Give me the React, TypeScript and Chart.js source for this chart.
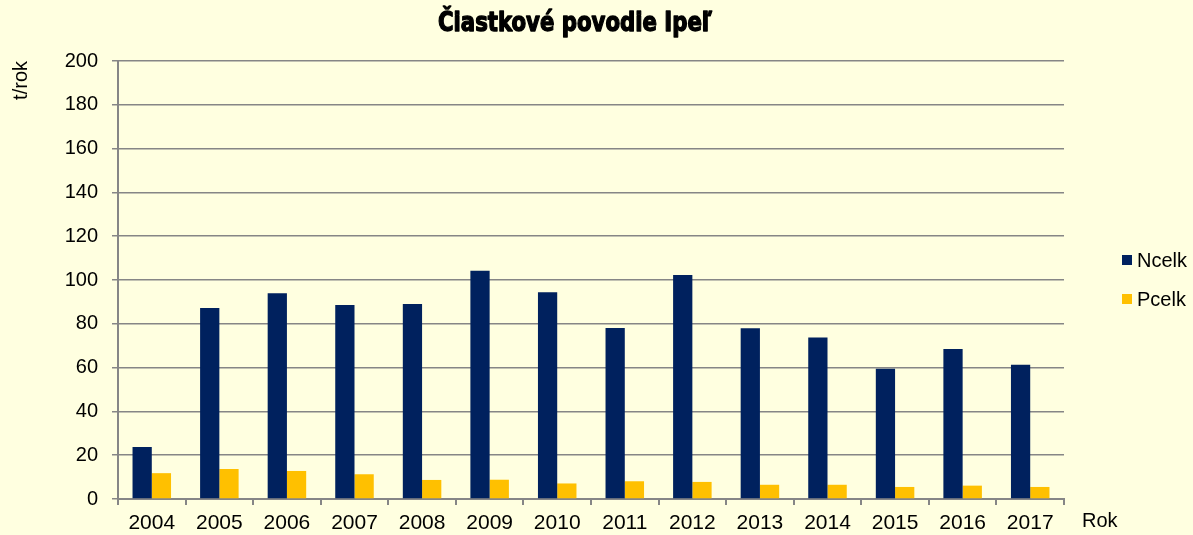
import React, { useEffect, useRef } from "react";
import { Chart, registerables } from "chart.js";

Chart.register(...registerables);

const years = ["2004", "2005", "2006", "2007", "2008", "2009", "2010", "2011", "2012", "2013", "2014", "2015", "2016", "2017"];
const ncelk = [23.7, 87.2, 94, 88.6, 89, 104.2, 94.4, 78.1, 102.3, 78, 73.7, 59.5, 68.5, 61.3];
const pcelk = [11.8, 13.7, 12.8, 11.3, 8.7, 8.8, 7.1, 8.1, 7.8, 6.5, 6.5, 5.5, 6.1, 5.5];
const seriesLabels = ["Ncelk", "Pcelk"];
const seriesColors = ["#00215E", "#FFC000"];
const titleText = "Čiastkové povodie Ipeľ";
const yTitle = "t/rok";
const xTitle = "Rok";

const FONT = "'Liberation Sans', Arial, sans-serif";
const GRID = "#868686";

const decorPlugin = {
  id: "decor",
  beforeDraw(chart: any) {
    const ctx = chart.ctx;
    ctx.save();
    ctx.fillStyle = "#FFFFE0";
    ctx.fillRect(0, 0, chart.width, chart.height);
    ctx.restore();
  },
  afterDraw(chart: any) {
    const ctx = chart.ctx;
    const area = chart.chartArea;
    ctx.save();
    // title
    ctx.font = "bold 27px 'DejaVu Sans Condensed', 'DejaVu Sans', sans-serif";
    ctx.fillStyle = "#000";
    ctx.strokeStyle = "#000";
    ctx.lineWidth = 1.3;
    ctx.lineJoin = "round";
    ctx.textBaseline = "alphabetic";
    ctx.textAlign = "center";
    const w = ctx.measureText(titleText).width;
    const sx = 274 / w;
    ctx.translate(575, 31);
    ctx.scale(sx, 1);
    ctx.fillText(titleText, 0, 0);
    ctx.strokeText(titleText, 0, 0);
    ctx.restore();

    // y title
    ctx.save();
    ctx.font = `20px ${FONT}`;
    ctx.fillStyle = "#000";
    ctx.translate(21, area.top);
    ctx.rotate(-Math.PI / 2);
    ctx.textAlign = "right";
    ctx.textBaseline = "middle";
    ctx.fillText(yTitle, 0, 0);
    ctx.restore();

    // x title
    ctx.save();
    ctx.font = `20px ${FONT}`;
    ctx.fillStyle = "#000";
    ctx.textAlign = "left";
    ctx.textBaseline = "alphabetic";
    ctx.fillText(xTitle, area.right + 18, 527);
    ctx.restore();

    // legend
    ctx.save();
    ctx.font = `20px ${FONT}`;
    ctx.textAlign = "left";
    ctx.textBaseline = "middle";
    chart.data.datasets.forEach((ds: any, i: number) => {
      const cy = 260 + i * 39;
      ctx.fillStyle = ds.backgroundColor;
      ctx.fillRect(area.right + 58, cy - 5, 10, 10);
      ctx.fillStyle = "#000";
      ctx.fillText(ds.label, area.right + 73, cy + 1);
    });
    ctx.restore();
  },
};

export default function App() {
  const ref = useRef<HTMLCanvasElement>(null);
  useEffect(() => {
    document.body.style.margin = "0";
    const chart = new Chart(ref.current!, {
      type: "bar",
      data: {
        labels: years,
        datasets: [
          { label: seriesLabels[0], data: ncelk, backgroundColor: seriesColors[0], barPercentage: 1, categoryPercentage: 0.57 },
          { label: seriesLabels[1], data: pcelk, backgroundColor: seriesColors[1], barPercentage: 1, categoryPercentage: 0.57 },
        ],
      },
      options: {
        animation: false,
        responsive: true,
        maintainAspectRatio: false,
        layout: { padding: { top: 61, right: 129, left: 0, bottom: 0 } },
        plugins: { legend: { display: false }, tooltip: { enabled: false }, title: { display: false } },
        scales: {
          x: {
            offset: true,
            grid: { offset: true, drawOnChartArea: false, drawTicks: true, tickLength: 6, color: GRID, lineWidth: 2 },
            border: { color: GRID, width: 2 },
            ticks: { color: "#000", font: { family: FONT, size: 21 }, padding: 6, maxRotation: 0, autoSkip: false },
            afterFit: (s: any) => { s.height = 36; },
          },
          y: {
            min: 0,
            max: 200,
            grid: { color: GRID, lineWidth: 1.5, tickLength: 6 },
            border: { color: GRID, width: 2 },
            ticks: { stepSize: 20, color: "#000", font: { family: FONT, size: 20 }, padding: 14 },
            afterFit: (s: any) => { s.width = 118; },
          },
        },
      },
      plugins: [decorPlugin],
    });
    return () => chart.destroy();
  }, []);
  return (
    <div style={{ width: 1193, height: 535, position: "relative", background: "#FFFFE0" }}>
      <canvas ref={ref} />
    </div>
  );
}
